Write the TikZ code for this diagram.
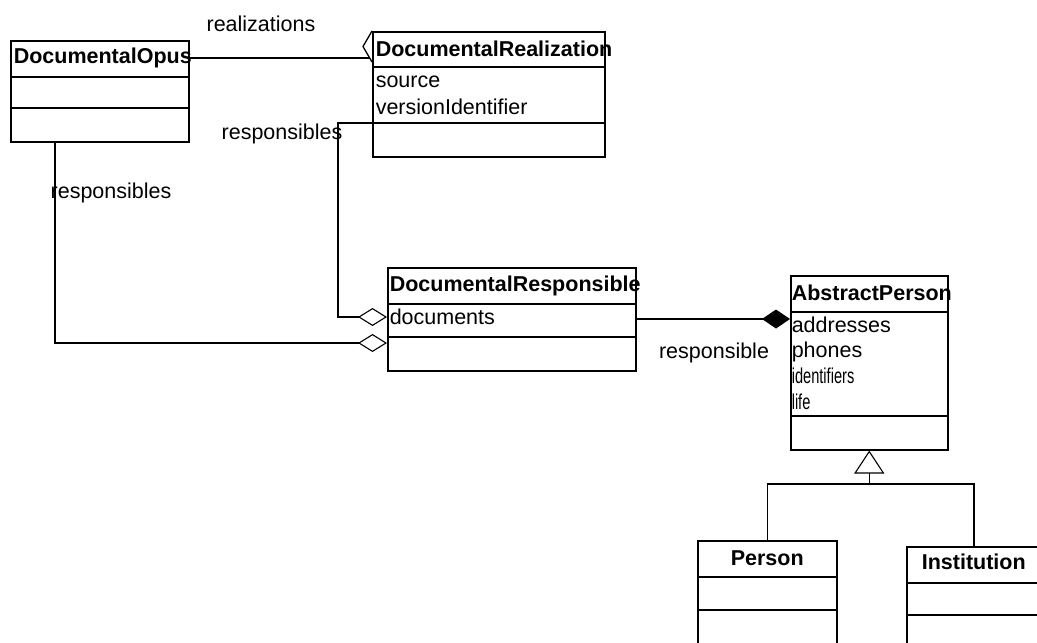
\documentclass[tikz,border=0pt]{standalone}
\usepackage{fontspec}
\usepackage{graphicx}
\setmainfont{Liberation Sans}
\usetikzlibrary{arrows.meta}
\tikzset{>=Stealth,
  cls/.style={draw, line width=1.5pt, inner sep=0pt, anchor=north west},
  ttl/.style={font=\bfseries\fontsize{21.5}{24}\selectfont, inner sep=0pt, anchor=base west},
  attr/.style={font=\fontsize{21.5}{24}\selectfont, inner sep=0pt, anchor=base west},
  lbl/.style={font=\fontsize{21.5}{24}\selectfont, inner sep=0pt, anchor=base},
  agg/.style={-{Diamond[open,length=29pt,width=18pt,line width=1.1pt]}},
  comp/.style={-{Diamond[length=28pt,width=19pt]}},
  gen/.style={-{Triangle[open,length=23pt,width=30pt,line width=1.1pt]}},
}
\newcommand\clsline[2]{\draw (#1.west |- 0,#2) -- (#1.east |- 0,#2);}

\begin{document}
\begin{tikzpicture}[x=1pt, y=-1pt, line width=1.5pt]
\useasboundingbox (0,0) rectangle (1037,643);
\fill[white] (0,0) rectangle (1037,643);
\clip (0,0) rectangle (1037,643);
% classes
\node[cls, minimum width=178pt, minimum height=101pt] (opus) at (10,40) {};
\node[cls, minimum width=232pt, minimum height=125pt] (real) at (372,31) {};
\node[cls, minimum width=248pt, minimum height=103pt] (resp) at (387,267) {};
\node[cls, minimum width=157pt, minimum height=174pt] (ap) at (790,275) {};
\node[cls, minimum width=139pt, minimum height=110pt] (person) at (697,540) {};
\node[cls, minimum width=134pt, minimum height=104pt] (inst) at (906,546) {};
\clsline{opus}{77} \clsline{opus}{108}
\clsline{real}{67} \clsline{real}{123}
\clsline{resp}{304} \clsline{resp}{337}
\clsline{ap}{312} \clsline{ap}{416}
\clsline{person}{577} \clsline{person}{610}
\clsline{inst}{583} \clsline{inst}{615}
% titles and attributes
\node[ttl] (opusT) at (13,63) {DocumentalOpus};
\node[ttl] (realT) at (375,56) {DocumentalRealization};
\node[attr] (realA1) at (375,87) {source};
\node[attr] (realA2) at (375,114) {versionIdentifier};
\node[ttl] (respT) at (389,291) {DocumentalResponsible};
\node[attr] (respA1) at (389,324) {documents};
\node[ttl] (apT) at (791,300) {AbstractPerson};
\node[attr] (apA1) at (791,332) {addresses};
\node[attr] (apA2) at (791,357) {phones};
\node[attr] (apA3) at (791,383) {\scalebox{0.68}[1]{identifiers}};
\node[attr] (apA4) at (791,409) {\scalebox{0.68}[1]{life}};
\node[ttl, anchor=base] (personT) at (person.north |- 0,565) {Person};
\node[ttl, anchor=base] (instT) at (inst.north |- 0,569) {Institution};
% associations
\coordinate (realdia) at (369.5,58);
\draw (opus.east |- 0,58) -- (realdia);
\draw[line width=1.3pt] (real.north west) -- ++(-9,15.5) -- (real.west |- 0,62);
\draw[agg] (real.west |- 0,123) -- ++(-34,0) |- (resp.west |- 0,317);
\draw[agg] (opus.south -| 55,0) |- (resp.west |- 0,343);
\draw[comp] (resp.east |- 0,319) -- (ap.west |- 0,319);
\coordinate (genjoint) at (ap.south |- 0,484);
\draw[gen] (genjoint) -- (ap.south);
\draw (person.north) |- (genjoint) -| (inst.north);
% role names
\node[lbl] (lrealz) at (261,31) {realizations};
\node[lbl] (lresp1) at (282,139) {responsibles};
\node[lbl] (lresp2) at (111,198) {responsibles};
\node[lbl] (lresp3) at (714,358) {responsible};
\end{tikzpicture}
\end{document}
